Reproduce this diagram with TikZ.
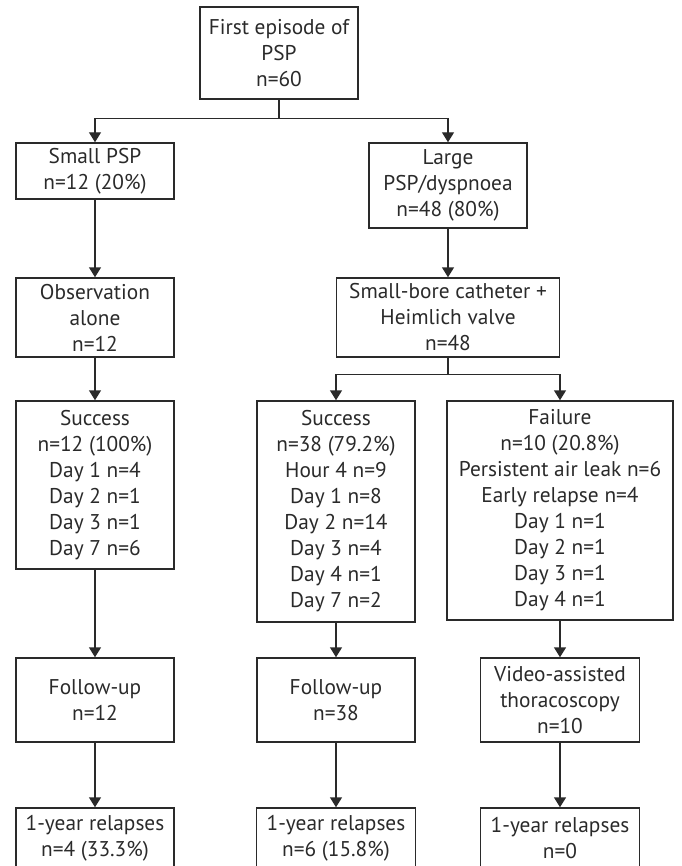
\documentclass[tikz,border=0pt]{standalone}
\usepackage{fontspec}
\setmainfont{PT Sans}
\usetikzlibrary{arrows.meta}
\definecolor{ink}{HTML}{2A2A2A}

\begin{document}
\begin{tikzpicture}[x=0.75pt, y=-0.75pt, color=ink, line width=1.1pt,
  box/.style={draw, align=center, inner sep=1pt, minimum width=118.5pt,
    font=\fontsize{16}{19.5}\selectfont},
  arr/.style={-{Triangle[width=9pt,length=7.5pt]}}]
  \useasboundingbox (0,0) rectangle (681,866);
  \clip (0,0) rectangle (681,866);
  % top of the chart
  \node[box, minimum height=69pt] (first) at (279,53) {First episode of\\PSP\\n=60};
  \node[box, minimum height=42pt] (small) at (95,171) {Small PSP\\n=12 (20\%)};
  \node[box, minimum height=63.75pt] (large) at (448,185.5) {Large\\PSP/dyspnoea\\n=48 (80\%)};
  % treatment
  \node[box, minimum height=59.25pt] (obs) at (95,317.5) {Observation\\alone\\n=12};
  \node[box, minimum width=167.25pt, minimum height=59.25pt] (sbc) at (448,317.5)
    {Small-bore catheter +\\Heimlich valve\\n=48};
  % outcome
  \node[box, minimum height=126pt] (succA) at (95,485)
    {Success\\n=12 (100\%)\\Day 1 n=4\\Day 2 n=1\\Day 3 n=1\\Day 7 n=6};
  \node[box, minimum height=165.75pt] (succB) at (336,511.5)
    {Success\\n=38 (79.2\%)\\Hour 4 n=9\\Day 1 n=8\\Day 2 n=14\\Day 3 n=4\\Day 4 n=1\\Day 7 n=2};
  \node[box, minimum width=169.5pt, minimum height=164.25pt] (fail) at (560,510.5)
    {Failure\\n=10 (20.8\%)\\Persistent air leak n=6\\Early relapse n=4\\Day 1 n=1\\Day 2 n=1\\Day 3 n=1\\Day 4 n=1};
  % follow-up and relapses
  \node[box, minimum height=63pt] (fuA) at (95,700) {Follow-up\\n=12};
  \node[box, minimum height=63pt] (fuB) at (336,700) {Follow-up\\n=38};
  \node[box, minimum width=119.25pt, minimum height=63pt] (vats) at (560,700)
    {Video-assisted\\thoracoscopy\\n=10};
  \node[box, minimum height=45pt] (relA) at (95,838) {1-year relapses\\n=4 (33.3\%)};
  \node[box, minimum width=119.25pt, minimum height=45pt] (relB) at (336,838) {1-year relapses\\n=6 (15.8\%)};
  \node[box, minimum width=119.25pt, minimum height=45pt] (relC) at (560,838) {1-year relapses\\n=0};
  % connectors
  \draw[arr] (first.south) -- ++(0,19) -| (small.north);
  \draw[arr] (first.south) -- ++(0,19) -| (large.north);
  \draw[arr] (small.south) -- (obs.north);
  \draw[arr] (obs.south) -- (succA.north);
  \draw[arr] (succA.south) -- (fuA.north);
  \draw[arr] (fuA.south) -- (relA.north);
  \draw[arr] (large.south) -- (sbc.north);
  \draw[arr] (sbc.south) -- ++(0,17) -| (succB.north);
  \draw[arr] (sbc.south) -- ++(0,17) -| (fail.north);
  \draw[arr] (succB.south) -- (fuB.north);
  \draw[arr] (fuB.south) -- (relB.north);
  \draw[arr] (fail.south) -- (vats.north);
  \draw[arr] (vats.south) -- (relC.north);
\end{tikzpicture}
\end{document}
